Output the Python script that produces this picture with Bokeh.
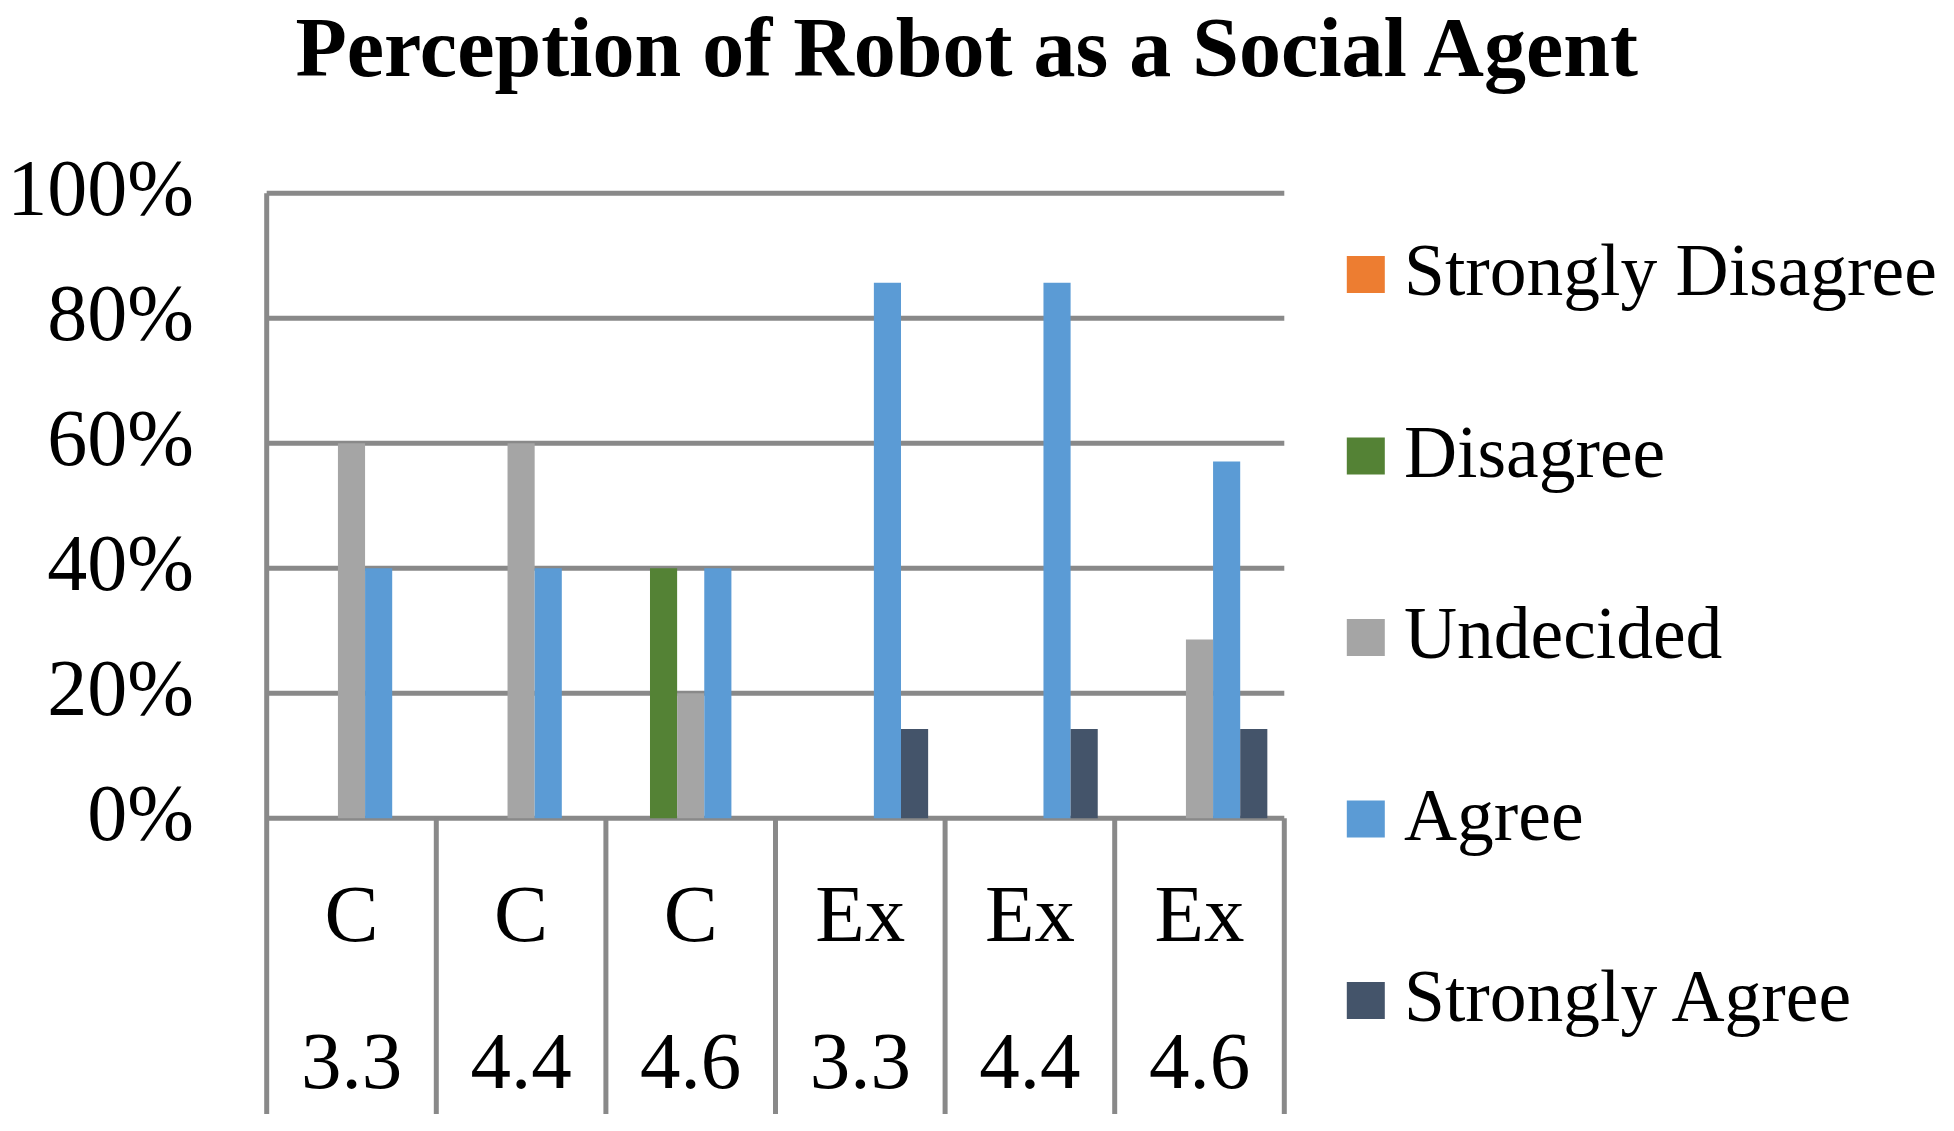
from bokeh.plotting import figure
from bokeh.models import Range1d, ColumnDataSource
from bokeh.transform import dodge
from bokeh.core.properties import value
from bokeh.embed import file_html
from bokeh.resources import INLINE

# ---- data ----
groups = ["C", "C", "C", "Ex", "Ex", "Ex"]
levels = ["3.3", "4.4", "4.6", "3.3", "4.4", "4.6"]
series = ["Strongly Disagree", "Disagree", "Undecided", "Agree", "Strongly Agree"]
strongly_disagree = [0.0, 0.0, 0.0, 0.0, 0.0, 0.0]
disagree = [0.0, 0.0, 0.40, 0.0, 0.0, 0.0]
undecided = [0.60, 0.60, 0.20, 0.0, 0.0, 0.286]
agree = [0.40, 0.40, 0.40, 0.857, 0.857, 0.571]
strongly_agree = [0.0, 0.0, 0.0, 0.143, 0.143, 0.143]
y_ticks = [0.0, 0.2, 0.4, 0.6, 0.8, 1.0]
y_tick_labels = ["0%", "20%", "40%", "60%", "80%", "100%"]
title_text = "Perception of Robot as a Social Agent"

colors = ["#ED7D31", "#548235", "#A5A5A5", "#5B9BD5", "#44546A"]
GRID = "#898989"
FONT = "Liberation Serif"

# ---- layout (pixel positions in the picture) ----
W, H = 1938, 1115
ORIGIN = 0.5                      # picture position of the canvas' top-left corner
PX_LEFT, PX_RIGHT = 266.7, 1284.3  # category axis span
PX_ZERO, PX_TOP = 818.3, 193.3     # 0% and 100%
SX = (PX_RIGHT - PX_LEFT) / len(groups)
SY = PX_ZERO - PX_TOP


def dx(px):
    return (px - PX_LEFT) / SX


def dy(py):
    return (PX_ZERO - py) / SY


Y_BOTTOM = dy(1114)

p = figure(width=W, height=H, output_backend="svg", toolbar_location=None,
           x_axis_location=None, y_axis_location=None,
           x_range=Range1d(dx(ORIGIN), dx(ORIGIN + W)),
           y_range=Range1d(dy(ORIGIN + H), dy(ORIGIN)),
           min_border=0)
p.outline_line_color = None
p.background_fill_color = "white"
p.border_fill_color = "white"
p.xgrid.visible = False
p.ygrid.visible = False

n = len(groups)
cat_x = [i + 0.5 for i in range(n)]
src = ColumnDataSource(dict(x=cat_x, grp=groups, lvl=levels,
                            sd=strongly_disagree, d=disagree, u=undecided,
                            a=agree, sa=strongly_agree))

# gridlines (value axis)
p.segment(x0=[0] * len(y_ticks), x1=[n] * len(y_ticks), y0=y_ticks, y1=y_ticks,
          line_color=GRID, line_width=5)
# value axis line + category table lines
edges = list(range(n + 1))
p.segment(x0=edges, x1=edges, y0=[Y_BOTTOM] * (n + 1),
          y1=[max(y_ticks)] + [0.0] * n, line_color=GRID, line_width=5)

# y tick labels
p.text(x=[dx(194)] * len(y_ticks), y=[t + 5.3 / SY for t in y_ticks], text=y_tick_labels,
       text_font=value(FONT), text_font_size=value("80px"), text_align="right",
       text_baseline="middle", text_color="black")

# bars
cols = ["sd", "d", "u", "a", "sa"]
offsets = [-0.32, -0.16, 0.0, 0.16, 0.32]
for name, col, off, c in zip(series, cols, offsets, colors):
    p.vbar(x=dodge("x", off), top=col, bottom=0, width=0.16,
           source=src, fill_color=c, line_color=None)

# category labels
p.text(x="x", y=dy(914), text="grp", source=src, text_font=value(FONT),
       text_font_size=value("81px"), text_align="center", text_baseline="middle",
       text_color="black")
p.text(x="x", y=dy(1061.5), text="lvl", source=src, text_font=value(FONT),
       text_font_size=value("81px"), text_align="center", text_baseline="middle",
       text_color="black")

# title
p.text(x=[dx(969)], y=[dy(47.5)], text=[title_text], text_font=value(FONT),
       text_font_style="bold", text_font_size=value("84px"), text_align="center",
       text_baseline="middle", text_color="black")

# legend
leg_y = [274.6 + 181.5 * i for i in range(len(series))]
p.rect(x=[dx(1365.8)] * len(series), y=[dy(v) for v in leg_y], width=38, height=37,
       width_units="screen", height_units="screen", fill_color=colors, line_color=None)
p.text(x=[dx(1404)] * len(series), y=[dy(v - 4) for v in leg_y], text=series,
       text_font=value(FONT), text_font_size=value("73.5px"), text_align="left",
       text_baseline="middle", text_color="black")

open("out.html", "w").write(file_html(p, INLINE))
